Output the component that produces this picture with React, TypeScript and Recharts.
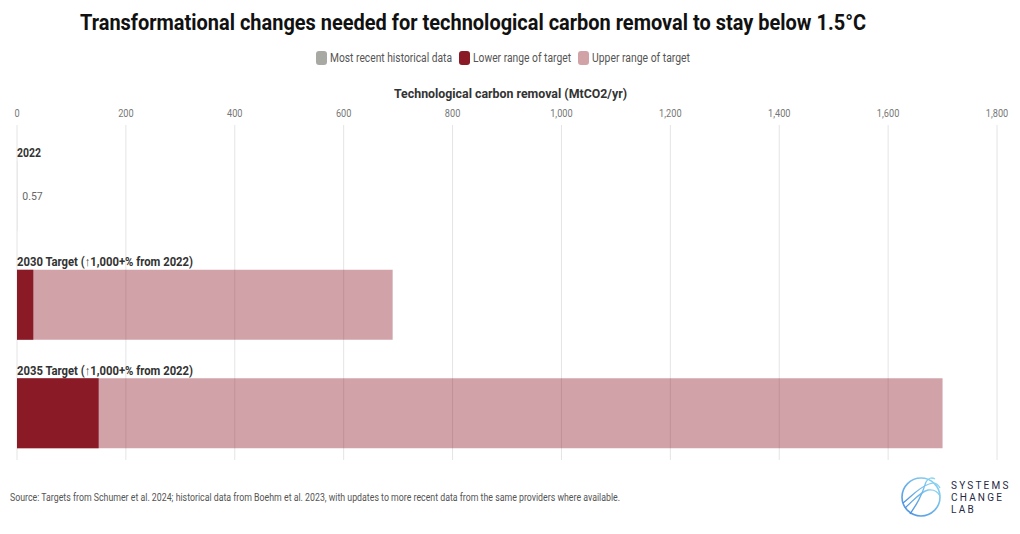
import { BarChart, Bar, XAxis, YAxis, CartesianGrid, LabelList } from 'recharts';

const rows = ['2022', '2030 Target (↑1,000+% from 2022)', '2035 Target (↑1,000+% from 2022)'];
const historical = [0.57, null, null];
const lowerTarget = [null, 30, 150];
const upperTarget = [null, 690, 1700];
const xTicks = [0, 200, 400, 600, 800, 1000, 1200, 1400, 1600, 1800];

const legendItems = [
  { name: 'Most recent historical data', color: '#a9a9a4', x: 316, w: 122 },
  { name: 'Lower range of target', color: '#8b1a27', x: 459, w: 98 },
  { name: 'Upper range of target', color: '#d1a3a7', x: 578, w: 98 },
];

const data = rows.map((row, i) => ({
  row,
  historical: historical[i],
  lower: lowerTarget[i],
  upper: upperTarget[i],
}));

const FONT = 'Roboto, "Noto Sans", sans-serif';

function XTick(props: any) {
  const { x, y, payload } = props;
  return (
    <text
      transform={`translate(${x},${y}) scale(0.8,1)`}
      textAnchor="middle"
      fontFamily={FONT}
      fontSize={11.5}
      fill="#777"
    >
      {payload.value.toLocaleString('en-US')}
    </text>
  );
}

function RowLabel(props: any) {
  const { y, payload } = props;
  const label = String(payload.value);
  const width = label.length > 6 ? 176 : 24;
  return (
    <text
      x={17}
      y={y - 39}
      fontFamily={FONT}
      fontWeight="bold"
      fontSize={13}
      fill="#333"
      textLength={width}
      lengthAdjust="spacingAndGlyphs"
    >
      {label}
    </text>
  );
}

export default function App() {
  return (
    <div style={{ position: 'absolute', left: 0, top: 0, width: 1020, height: 534, background: '#fff' }}>
      <BarChart
        width={1020}
        height={534}
        data={data}
        layout="vertical"
        barSize={70}
        barGap={-70}
        margin={{ top: 95, right: 23, bottom: 74, left: 0 }}
      >
        <CartesianGrid horizontal={false} stroke="#e4e4e4" />
        <XAxis
          type="number"
          orientation="top"
          domain={[0, 1800]}
          ticks={xTicks}
          interval={0}
          axisLine={false}
          tickLine={false}
          tick={<XTick />}
          height={30}
        />
        <YAxis
          type="category"
          dataKey="row"
          width={17}
          interval={0}
          axisLine={false}
          tickLine={false}
          tick={<RowLabel />}
          padding={{ top: 17, bottom: -8 }}
        />
        <Bar dataKey="upper" fill="#8b1a27" fillOpacity={0.4} isAnimationActive={false} />
        <Bar dataKey="lower" fill="#8b1a27" isAnimationActive={false} />
        <Bar dataKey="historical" fill="#a9a9a4" fillOpacity={0.3} isAnimationActive={false}>
          <LabelList
            dataKey="historical"
            position="right"
            offset={5}
            fill="#666"
            fontSize={10.5}
            fontFamily={FONT}
          />
        </Bar>
      </BarChart>

      <svg
        width={1020}
        height={534}
        style={{ position: 'absolute', left: 0, top: 0, pointerEvents: 'none' }}
      >
        <text
          x={80}
          y={30}
          fontFamily={FONT}
          fontWeight="bold"
          fontSize={22}
          fill="#111"
          textLength={786}
          lengthAdjust="spacingAndGlyphs"
        >
          Transformational changes needed for technological carbon removal to stay below 1.5°C
        </text>

        {legendItems.map((item) => (
          <g key={item.name}>
            <rect x={item.x} y={51} width={11} height={14} rx={3} fill={item.color} />
            <text
              x={item.x + 14}
              y={62}
              fontFamily={FONT}
              fontSize={12.5}
              fill="#555"
              textLength={item.w}
              lengthAdjust="spacingAndGlyphs"
            >
              {item.name}
            </text>
          </g>
        ))}

        <text
          x={394}
          y={98}
          fontFamily={FONT}
          fontWeight="bold"
          fontSize={13.5}
          fill="#333"
          textLength={233}
          lengthAdjust="spacingAndGlyphs"
        >
          Technological carbon removal (MtCO2/yr)
        </text>

        <text
          x={10}
          y={501}
          fontFamily={FONT}
          fontSize={10}
          fill="#555"
          textLength={610}
          lengthAdjust="spacingAndGlyphs"
        >
          Source: Targets from Schumer et al. 2024; historical data from Boehm et al. 2023, with updates to more recent data from the same providers where available.
        </text>

        <defs>
          <linearGradient id="logoGrad" x1="0" y1="1" x2="1" y2="0">
            <stop offset="0" stopColor="#4c8fe0" />
            <stop offset="1" stopColor="#8fd8f2" />
          </linearGradient>
        </defs>
        <circle cx={921} cy={497} r={19} fill="none" stroke="url(#logoGrad)" strokeWidth={1.6} />
        <path d="M903 503 C912 496, 918 488, 929 484 C934 482, 938 484, 940 488" fill="none" stroke="url(#logoGrad)" strokeWidth={1.3} />
        <path d="M905 508 C914 500, 920 492, 928 490 C934 489, 938 492, 940 496" fill="none" stroke="url(#logoGrad)" strokeWidth={1.3} />
        <path d="M910 514 C916 505, 921 498, 926 482 C928 478, 932 477, 935 479" fill="none" stroke="url(#logoGrad)" strokeWidth={1.3} />
        <text x={951} y={489} fontFamily={FONT} fontSize={10} letterSpacing={2.2} fill="#1e2a45">SYSTEMS</text>
        <text x={951} y={501} fontFamily={FONT} fontSize={10} letterSpacing={2.2} fill="#1e2a45">CHANGE</text>
        <text x={951} y={513} fontFamily={FONT} fontSize={10} letterSpacing={2.2} fill="#1e2a45">LAB</text>
      </svg>
    </div>
  );
}
